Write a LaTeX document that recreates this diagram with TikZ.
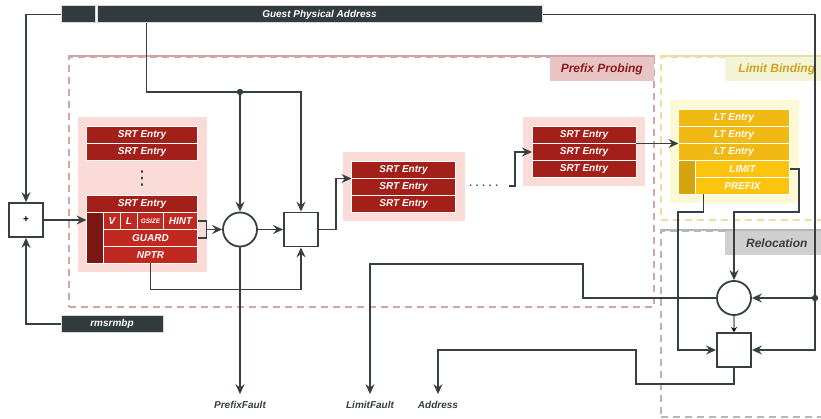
\documentclass[tikz,border=0pt]{standalone}
\usepackage{fontspec}
\setsansfont{Liberation Sans}
\newfontfamily\symfnt{DejaVu Sans}
\usepackage{xcolor}
\usepackage{tikz}
\usetikzlibrary{positioning,fit,arrows.meta,backgrounds,calc}

\definecolor{slate}{RGB}{50,60,62}
\definecolor{wirec}{RGB}{54,63,65}
\definecolor{srtred}{RGB}{162,32,25}
\definecolor{fieldred}{RGB}{192,40,32}
\definecolor{colred}{RGB}{122,23,18}
\definecolor{srtbg}{RGB}{250,219,216}
\definecolor{pfxline}{RGB}{208,165,163}
\definecolor{pfxtab}{RGB}{233,196,196}
\definecolor{pfxtext}{RGB}{140,28,28}
\definecolor{ltgold}{RGB}{240,185,20}
\definecolor{fieldgold}{RGB}{252,196,12}
\definecolor{colgold}{RGB}{212,165,14}
\definecolor{ltbg}{RGB}{253,249,213}
\definecolor{limline}{RGB}{236,222,168}
\definecolor{limtab}{RGB}{243,243,216}
\definecolor{limtext}{RGB}{210,163,26}
\definecolor{relline}{RGB}{182,182,182}
\definecolor{reltab}{RGB}{207,207,207}
\definecolor{reltext}{RGB}{60,60,60}

\begin{document}
\begin{tikzpicture}[
        x=1pt, y=-1pt,
        font=\sffamily\bfseries\itshape\fontsize{10}{12}\selectfont,
        >={Stealth[length=10pt,width=9pt,inset=3.5pt]},
        wire/.style={draw=wirec, line width=1.8pt},
        arr/.style={wire, ->},
        entry/.style={draw=white, line width=1pt, text=white, inner sep=0pt,
                      outer sep=0pt, minimum height=17pt},
        srt/.style={entry, fill=srtred, minimum width=111pt},
        fld/.style={entry, fill=fieldred},
        lt/.style={entry, fill=ltgold, minimum width=111pt},
        gfld/.style={entry, fill=fieldgold},
        bar/.style={draw=black!15, line width=1pt, fill=slate, text=white,
                    inner sep=0pt, minimum height=17pt},
        group/.style={inner sep=9pt},
        frame/.style={line width=2pt, dash pattern=on 7pt off 5pt, inner sep=0pt},
        tab/.style={font=\sffamily\bfseries\itshape\fontsize{12}{14}\selectfont,
                    minimum width=104pt, minimum height=24pt, anchor=north east},
        op/.style={draw=wirec, line width=1.8pt, fill=white, minimum size=34pt, inner sep=0pt},
        opbox/.style={op, rectangle},
        opcirc/.style={op, circle},
        outlbl/.style={text=wirec, inner sep=7pt}
    ]
    \useasboundingbox (0,0) rectangle (821,419);

    % ---- Frames ----
    \node[frame, draw=pfxline, fit={(69,57)(654,307)}] (pfx) {};
    \draw[pfxline, line width=2pt] (pfx.north west) -- (pfx.north east);
    \node[tab, fill=pfxtab, text=pfxtext] (pfxtab) at ([xshift=-1pt,yshift=-1pt]pfx.north east) {Prefix Probing};
    \node[frame, draw=limline, fit={(661,57)(828,220)}] (lim) {};
    \draw[limline, line width=2pt] (lim.north west) -- (lim.north east);
    \node[tab, fill=limtab, text=limtext] (limtab) at ([yshift=-1pt]lim.north east) {Limit Binding};
    \node[frame, draw=relline, fit={(661,231)(828,417)}] (rel) {};
    \draw[relline, line width=2pt] (rel.north west) -- (rel.north east);
    \node[tab, fill=reltab, text=reltext] (reltab) at ([yshift=-1pt]rel.north east) {Relocation};

    % ---- Inputs ----
    \node[bar, minimum width=34pt] (gpalo) at (78,14.5) {};
    \node[bar, minimum width=445pt, right=1pt of gpalo] (gpa) {Guest Physical Address};
    \node[bar, minimum width=102pt] (rms) at (112,324) {rmsrmbp};
    \node[opbox, font=\sffamily\bfseries] (plus) at (26,220) {+};

    % ---- First SRT ----
    \node[srt] (srt1) at (142,135) {SRT Entry};
    \node[srt, below=0pt of srt1] (srt2) {SRT Entry};
    \node[text=wirec, font=\symfnt\fontsize{19}{19}\selectfont] (vdots) at (142,179) {⋮};
    \node[srt] (srt3) at (142,204) {SRT Entry};
    \node[entry, fill=colred, minimum width=17pt, minimum height=51pt,
          below=0pt of srt3.south west, anchor=north west] (srtcol) {};
    \node[fld, minimum width=17pt, right=0pt of srtcol.north east, anchor=north west] (fv) {V};
    \node[fld, minimum width=17pt, right=0pt of fv] (fl) {L};
    \node[fld, minimum width=26pt, right=0pt of fl,
          font=\sffamily\bfseries\itshape\fontsize{6.5}{8}\selectfont] (fgsize) {GSIZE};
    \node[fld, minimum width=34pt, right=0pt of fgsize] (fhint) {HINT};
    \node[fld, minimum width=94pt, below=0pt of fv.south west, anchor=north west] (fguard) {GUARD};
    \node[fld, minimum width=94pt, below=0pt of fguard] (fnptr) {NPTR};
    \begin{scope}[on background layer]
        \node[group, fill=srtbg, fit=(srt1)(srtcol)(fhint)(fnptr)] (g1) {};
    \end{scope}

    % ---- Next SRTs ----
    \node[srt, minimum width=104pt] (srt21) at (403.5,170) {SRT Entry};
    \node[srt, minimum width=104pt, below=0pt of srt21] (srt22) {SRT Entry};
    \node[srt, minimum width=104pt, below=0pt of srt22] (srt23) {SRT Entry};
    \node[srt, minimum width=104pt] (srt31) at (584,135) {SRT Entry};
    \node[srt, minimum width=104pt, below=0pt of srt31] (srt32) {SRT Entry};
    \node[srt, minimum width=104pt, below=0pt of srt32] (srt33) {SRT Entry};
    \node[text=wirec] (ellip) at (484,186) {. . . . .};
    \begin{scope}[on background layer]
        \node[group, fill=srtbg, fit=(srt21)(srt23)] (g2) {};
        \node[group, fill=srtbg, fit=(srt31)(srt33)] (g3) {};
    \end{scope}

    % ---- LT ----
    \node[lt] (lt1) at (734,118) {LT Entry};
    \node[lt, below=0pt of lt1] (lt2) {LT Entry};
    \node[lt, below=0pt of lt2] (lt3) {LT Entry};
    \node[entry, fill=colgold, minimum width=17pt, minimum height=34pt,
          below=0pt of lt3.south west, anchor=north west] (ltcol) {};
    \node[gfld, minimum width=94pt, right=0pt of ltcol.north east, anchor=north west] (flimit) {LIMIT};
    \node[gfld, minimum width=94pt, below=0pt of flimit] (fprefix) {PREFIX};
    \begin{scope}[on background layer]
        \node[group, fill=ltbg, fit=(lt1)(ltcol)(fprefix)] (ltg) {};
    \end{scope}

    % ---- Operators ----
    \node[opcirc] (cmp1) at (240,229.5) {};
    \node[opbox] (sel1) at (301,229.5) {};
    \node[opcirc] (cmp2) at (734,298) {};
    \node[opbox] (sel2) at (734,350) {};

    \node[outlbl] (pfault) at (240,405) {PrefixFault};
    \node[outlbl] (lfault) at (370,405) {LimitFault};
    \node[outlbl] (addr) at (438,405) {Address};

    % ---- Wires ----
    \coordinate (tap) at (240,92);
    \coordinate (rtap) at (815,298);
    \coordinate (lbend) at (583,264);
    \coordinate (abend) at (636,384);

    \draw[arr] (gpalo.west) -| (plus.north);
    \draw[arr] (rms.west) -| (plus.south);
    \draw[arr] (plus.east) -- (plus.east -| srtcol.west);
    \draw[arr] ($(gpa.south west)+(50,0)$) |- (tap) -| (sel1.north);
    \draw[arr] (tap) -- (cmp1.north);
    \fill[wirec] (tap) circle (3.2pt);

    \draw[wire] (fhint.east) -- ++(9,0) |- (fguard.east);
    \draw[arr] ($(fhint.east)!0.5!(fguard.east)+(9,0)$) -- (cmp1.west);
    \draw[arr] (cmp1.east) -- (sel1.west);
    \draw[arr] (fnptr.south) -- ++(0,26) -| (sel1.south);
    \draw[arr] (cmp1.south) -- (pfault);

    \draw[arr] (sel1.east) -- ++(17,0) |- (srt21.south west);
    \draw[arr] ([xshift=7pt]ellip.east) -- ++(6,0) |- (srt32.west);
    \draw[arr] (srt31.south east) -- (lt2.south west);

    \draw[arr] (flimit.east) -| ($(ltg.south east)+(0,8)$) -| (cmp2.north);
    \draw[arr] ($(fprefix.south west)+(8,0)$) |- ($(ltg.south west)+(9,8)$) |- (sel2.west);
    \draw[wirec!55, line width=1.2pt, -{Stealth[length=5pt,width=6pt,color=black]}] (cmp2.south) -- (sel2.north);

    \draw[wire] (gpa.east) -| (rtap);
    \draw[arr] (rtap) -- (cmp2.east);
    \draw[arr] (rtap) |- (sel2.east);
    \fill[wirec] (rtap) circle (3.2pt);

    \draw[arr] (cmp2.west) -| (lbend) -| (lfault.north);
    \draw[arr] (sel2.south) |- (abend) -- (abend |- sel2.west) -| (addr.north);
\end{tikzpicture}
\end{document}
